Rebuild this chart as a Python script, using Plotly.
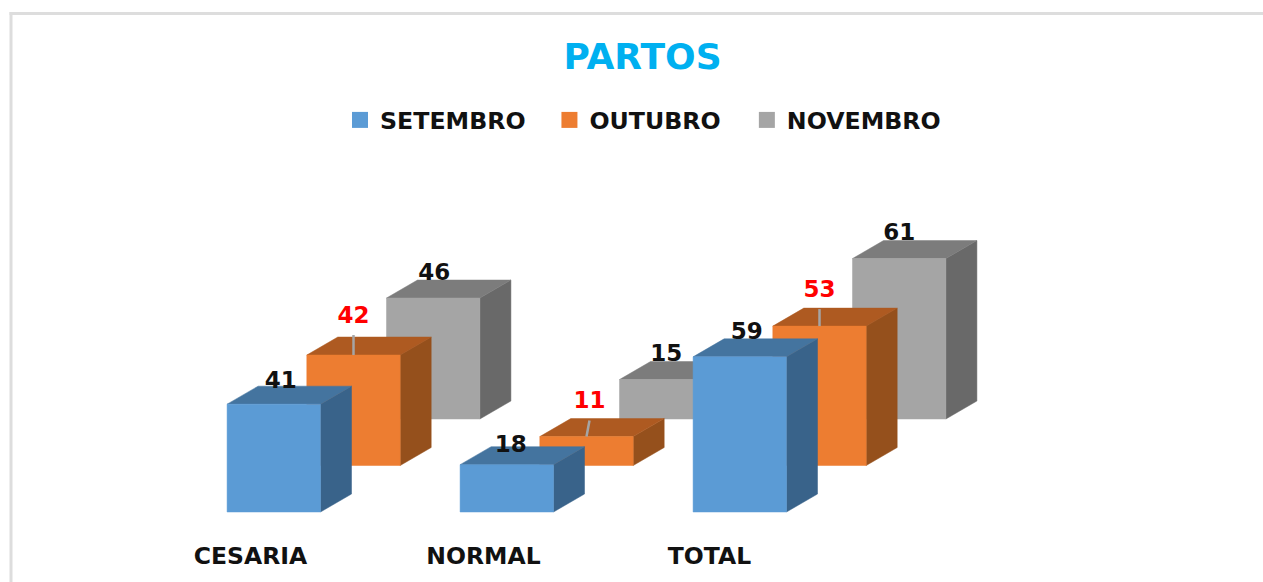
import plotly.graph_objects as go

categories = ["CESARIA", "NORMAL", "TOTAL"]
setembro = [41, 18, 59]
outubro = [42, 11, 53]
novembro = [46, 15, 61]

# ---- styling / layout constants (not data) ----
W, H = 1263, 582
PLOT_BOTTOM = 538
PX_PER_CAT = 233.0
PX_PER_UNIT = 2.63
ORIGIN_X = 273.8   # pixel of first category's front bar centre
ORIGIN_Y = 512.0   # pixel of value 0 for the front series
BAR_W = 93.4 / PX_PER_CAT
DEPTH_X = 31 / PX_PER_CAT
DEPTH_Y = 18 / PX_PER_UNIT
STEP_X = 79.7 / PX_PER_CAT
STEP_Y = 46.5 / PX_PER_UNIT
TICK_POS = [-0.1, 0.9, 1.87]
FONT = "DejaVu Sans"

series = [
    dict(name="NOVEMBRO", values=novembro, depth=2, front="#A5A5A5", top="#7C7C7C", side="#696969",
         label="#111111", nudge=[(1, -24), (0, -24.5), (0, -24.5)], leader=False,
         pad="\u00a0\u00a0"),
    dict(name="OUTUBRO", values=outubro, depth=1, front="#ED7D31", top="#AE5A21", side="#95501C",
         label="#FF0000", nudge=[(0, -38), (3, -34), (0, -35)], leader=True,
         pad="\u00a0\u00a0\u2009"),
    dict(name="SETEMBRO", values=setembro, depth=0, front="#5B9BD5", top="#44749F", side="#39638A",
         label="#111111", nudge=[(7, -22), (4, -18), (7, -24)], leader=False,
         pad="\u00a0\u00a0\u200a"),
]


def faces(values, depth):
    """Oblique-projection polygons for a series, computed from its values."""
    front_x, front_y, top_x, top_y, side_x, side_y = [], [], [], [], [], []
    for k, v in enumerate(values):
        l = k + depth * STEP_X - BAR_W / 2
        r = l + BAR_W
        b = depth * STEP_Y
        t = b + v
        front_x += [l, r, r, l, l, None]
        front_y += [b, b, t, t, b, None]
        top_x += [l, r, r + DEPTH_X, l + DEPTH_X, l, None]
        top_y += [t, t, t + DEPTH_Y, t + DEPTH_Y, t, None]
        side_x += [r, r + DEPTH_X, r + DEPTH_X, r, r, None]
        side_y += [b, b + DEPTH_Y, t + DEPTH_Y, t, b, None]
    return (front_x, front_y), (top_x, top_y), (side_x, side_y)


fig = go.Figure()

for s in series:
    (fx, fy), (tx, ty), (sx, sy) = faces(s["values"], s["depth"])
    for (x, y), col in (((sx, sy), s["side"]), ((tx, ty), s["top"]), ((fx, fy), s["front"])):
        fig.add_trace(go.Scatter(x=x, y=y, mode="lines", fill="toself", fillcolor=col,
                                 line=dict(color=col, width=0.5), showlegend=False,
                                 hoverinfo="skip"))

# leader lines and value labels
for s in series:
    lx, ly, lt = [], [], []
    for k, v in enumerate(s["values"]):
        cx = k + s["depth"] * STEP_X
        top = s["depth"] * STEP_Y + v
        nx, ny = s["nudge"][k]
        px_x = cx + nx / PX_PER_CAT
        px_y = top - ny / PX_PER_UNIT
        lx.append(px_x)
        ly.append(px_y)
        lt.append(str(v))
        if s["leader"]:
            fig.add_trace(go.Scatter(x=[cx, px_x], y=[top, px_y - 18 / PX_PER_UNIT], mode="lines",
                                     line=dict(color="#A5A5A5", width=2.5), showlegend=False,
                                     hoverinfo="skip"))
    fig.add_trace(go.Scatter(x=lx, y=ly, mode="text", text=lt, textposition="middle center",
                             textfont=dict(family=FONT, size=23, color=s["label"], weight="bold"),
                             showlegend=False, hoverinfo="skip"))

# legend entries (in reading order)
for s in reversed(series):
    fig.add_trace(go.Scatter(x=[None], y=[None], mode="markers", name=s["name"] + s["pad"],
                             marker=dict(symbol="square", size=17, color=s["front"])))

fig.update_layout(
    width=W, height=H,
    margin=dict(l=0, r=0, t=0, b=H - PLOT_BOTTOM, autoexpand=False),
    paper_bgcolor="white", plot_bgcolor="white",
    title=dict(text="<b>PARTOS</b>", x=642.5 / W, xanchor="center", xref="paper",
               y=1 - 56.5 / H, yanchor="middle", yref="container",
               font=dict(family=FONT, size=36, color="#00B0F0")),
    legend=dict(orientation="h", x=340 / W, xanchor="left",
                y=(PLOT_BOTTOM - 120) / PLOT_BOTTOM, yanchor="middle",
                traceorder="normal",
                font=dict(family=FONT, size=23.7, color="#111111", weight="bold"),
                bgcolor="rgba(0,0,0,0)"),
    xaxis=dict(range=[-ORIGIN_X / PX_PER_CAT, (W - ORIGIN_X) / PX_PER_CAT],
               tickmode="array", tickvals=TICK_POS, ticktext=categories,
               showgrid=False, zeroline=False, showline=False, ticks="",
               ticklabelstandoff=1, automargin=False,
               tickfont=dict(family=FONT, size=23.5, color="#111111", weight="bold")),
    yaxis=dict(range=[-(PLOT_BOTTOM - ORIGIN_Y) / PX_PER_UNIT, ORIGIN_Y / PX_PER_UNIT],
               visible=False, showgrid=False, zeroline=False, automargin=False),
    shapes=[
        dict(type="rect", xref="paper", yref="paper", layer="below",
             x0=9.5 / W, x1=12.5 / W, y0=-(H - PLOT_BOTTOM) / PLOT_BOTTOM,
             y1=(PLOT_BOTTOM - 12) / PLOT_BOTTOM, fillcolor="#DDDDDD", line_width=0),
        dict(type="rect", xref="paper", yref="paper", layer="below",
             x0=9.5 / W, x1=1, y0=(PLOT_BOTTOM - 15) / PLOT_BOTTOM,
             y1=(PLOT_BOTTOM - 12) / PLOT_BOTTOM, fillcolor="#DDDDDD", line_width=0),
    ],
)

fig.write_html("out.html", config=dict(displayModeBar=False),
               post_script="document.body.style.margin='0';document.body.style.overflow='hidden';")
